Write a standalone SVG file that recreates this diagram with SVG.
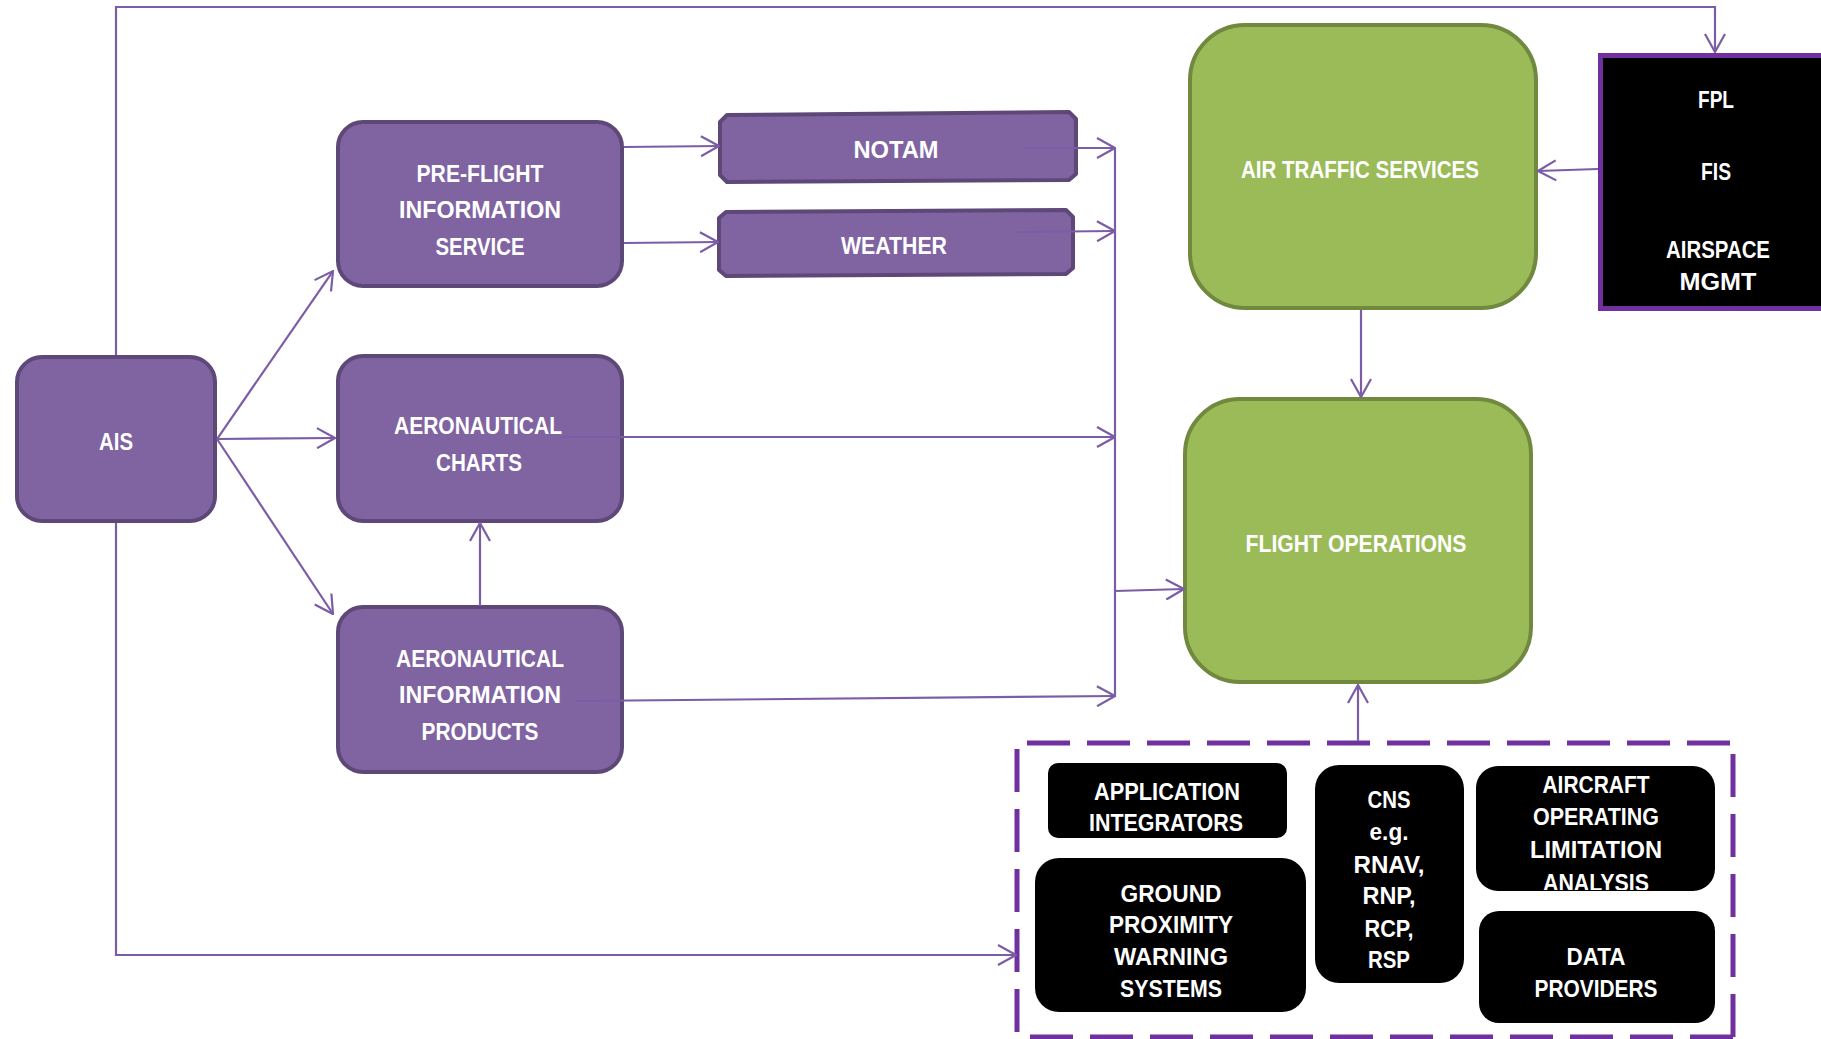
<svg xmlns="http://www.w3.org/2000/svg" width="1821" height="1039" viewBox="0 0 1821 1039">
<style>
  .pbox { fill: #8064A2; stroke: #5E4878; stroke-width: 4; stroke-linejoin: round; }
  .gbox { fill: #9BBB59; stroke: #71893F; stroke-width: 4; }
  .kbox { fill: #000000; }
  .fbox { fill: #000000; stroke: #7030A0; stroke-width: 5; }
  .t { font-family: "Liberation Sans", Arial, sans-serif; font-weight: bold; font-size: 23.5px; fill: #FFFFFF; text-anchor: middle; }
  .c { fill: none; stroke: #7B5CA6; stroke-width: 2.2; }
  .ca { fill: none; stroke: #7B5CA6; stroke-width: 2.2; marker-end: url(#arr); }
  .dash { fill: none; stroke: #7030A0; stroke-width: 5; stroke-dasharray: 43 17; }
</style>
<defs>
  <marker id="arr" markerUnits="userSpaceOnUse" viewBox="0 0 20 22" markerWidth="20" markerHeight="22" refX="19" refY="11" orient="auto">
    <path d="M1,1 L19,11 L1,21" fill="none" stroke="#7B5CA6" stroke-width="2.2"/>
  </marker>
  <clipPath id="clipAOLA">
    <rect x="1476" y="766" width="239" height="124"/>
  </clipPath>
</defs>
<rect width="1821" height="1039" fill="#FFFFFF"/>

<g id="ais">
  <rect class="pbox" x="17" y="357" width="198" height="164" rx="25"/>
  <text class="t" x="116" y="450" textLength="34" lengthAdjust="spacingAndGlyphs">AIS</text>
</g>

<g id="pre-flight">
  <rect class="pbox" x="338" y="122" width="284" height="164" rx="25"/>
  <text class="t" x="480" y="182" textLength="127" lengthAdjust="spacingAndGlyphs">PRE-FLIGHT</text>
  <text class="t" x="480" y="218" textLength="162" lengthAdjust="spacingAndGlyphs">INFORMATION</text>
  <text class="t" x="480" y="255" textLength="89" lengthAdjust="spacingAndGlyphs">SERVICE</text>
</g>

<g id="charts">
  <rect class="pbox" x="338" y="356" width="284" height="165" rx="25"/>
  <text class="t" x="478" y="434" textLength="168" lengthAdjust="spacingAndGlyphs">AERONAUTICAL</text>
  <text class="t" x="479" y="471" textLength="86" lengthAdjust="spacingAndGlyphs">CHARTS</text>
</g>

<g id="aip">
  <rect class="pbox" x="338" y="607" width="284" height="165" rx="25"/>
  <text class="t" x="480" y="667" textLength="168" lengthAdjust="spacingAndGlyphs">AERONAUTICAL</text>
  <text class="t" x="480" y="703" textLength="162" lengthAdjust="spacingAndGlyphs">INFORMATION</text>
  <text class="t" x="480" y="740" textLength="117" lengthAdjust="spacingAndGlyphs">PRODUCTS</text>
</g>

<g id="notam">
  <polygon class="pbox" points="727,115 1069,112 1076,119 1076,174 1069,180 727,182 720,175 720,122"/>
  <text class="t" x="896" y="158" textLength="85" lengthAdjust="spacingAndGlyphs">NOTAM</text>
</g>

<g id="weather">
  <polygon class="pbox" points="726,212 1066,210 1073,217 1073,268 1066,274 726,276 719,270 719,218"/>
  <text class="t" x="894" y="254" textLength="106" lengthAdjust="spacingAndGlyphs">WEATHER</text>
</g>

<g id="ats">
  <rect class="gbox" x="1190" y="25" width="346" height="283" rx="55"/>
  <text class="t" x="1360" y="178" textLength="238" lengthAdjust="spacingAndGlyphs">AIR TRAFFIC SERVICES</text>
</g>

<g id="flight-ops">
  <rect class="gbox" x="1185" y="399" width="346" height="283" rx="55"/>
  <text class="t" x="1356" y="552" textLength="221" lengthAdjust="spacingAndGlyphs">FLIGHT OPERATIONS</text>
</g>

<g id="fpl">
  <rect class="fbox" x="1600.5" y="55.5" width="240" height="253"/>
  <text class="t" x="1716" y="108" textLength="36" lengthAdjust="spacingAndGlyphs">FPL</text>
  <text class="t" x="1716" y="180" textLength="30" lengthAdjust="spacingAndGlyphs">FIS</text>
  <text class="t" x="1718" y="258" textLength="104" lengthAdjust="spacingAndGlyphs">AIRSPACE</text>
  <text class="t" x="1718" y="290" textLength="77" lengthAdjust="spacingAndGlyphs">MGMT</text>
</g>

<g id="providers-group">
  <path class="dash" d="M1027,743 H1730"/>
  <path class="dash" d="M1017,749 V1039"/>
  <path class="dash" d="M1733,754 V1039"/>
  <path class="dash" d="M1030,1037 H1733"/>
</g>

<g id="app-integrators">
  <rect class="kbox" x="1048" y="763" width="239" height="75" rx="10"/>
  <text class="t" x="1167" y="800" textLength="146" lengthAdjust="spacingAndGlyphs">APPLICATION</text>
  <text class="t" x="1166" y="831" textLength="154" lengthAdjust="spacingAndGlyphs">INTEGRATORS</text>
</g>

<g id="gpws">
  <rect class="kbox" x="1035" y="858" width="271" height="154" rx="24"/>
  <text class="t" x="1171" y="902" textLength="101" lengthAdjust="spacingAndGlyphs">GROUND</text>
  <text class="t" x="1171" y="933" textLength="124" lengthAdjust="spacingAndGlyphs">PROXIMITY</text>
  <text class="t" x="1171" y="965" textLength="114" lengthAdjust="spacingAndGlyphs">WARNING</text>
  <text class="t" x="1171" y="997" textLength="102" lengthAdjust="spacingAndGlyphs">SYSTEMS</text>
</g>

<g id="cns">
  <rect class="kbox" x="1315" y="765" width="149" height="218" rx="24"/>
  <text class="t" x="1389" y="808" textLength="43" lengthAdjust="spacingAndGlyphs">CNS</text>
  <text class="t" x="1389" y="840" textLength="39" lengthAdjust="spacingAndGlyphs">e.g.</text>
  <text class="t" x="1389" y="873" textLength="71" lengthAdjust="spacingAndGlyphs">RNAV,</text>
  <text class="t" x="1389" y="904" textLength="53" lengthAdjust="spacingAndGlyphs">RNP,</text>
  <text class="t" x="1389" y="937" textLength="49" lengthAdjust="spacingAndGlyphs">RCP,</text>
  <text class="t" x="1389" y="968" textLength="42" lengthAdjust="spacingAndGlyphs">RSP</text>
</g>

<g id="aircraft-limitations">
  <rect class="kbox" x="1476" y="766" width="239" height="125" rx="22"/>
  <g clip-path="url(#clipAOLA)">
    <text class="t" x="1596" y="793" textLength="107" lengthAdjust="spacingAndGlyphs">AIRCRAFT</text>
    <text class="t" x="1596" y="825" textLength="126" lengthAdjust="spacingAndGlyphs">OPERATING</text>
    <text class="t" x="1596" y="858" textLength="132" lengthAdjust="spacingAndGlyphs">LIMITATION</text>
    <text class="t" x="1596" y="891" textLength="106" lengthAdjust="spacingAndGlyphs">ANALYSIS</text>
  </g>
</g>

<g id="data-providers">
  <rect class="kbox" x="1479" y="911" width="236" height="112" rx="20"/>
  <text class="t" x="1596" y="965" textLength="59" lengthAdjust="spacingAndGlyphs">DATA</text>
  <text class="t" x="1596" y="997" textLength="123" lengthAdjust="spacingAndGlyphs">PROVIDERS</text>
</g>

<g id="connectors">
  <path class="ca" d="M116,355 V7 H1715 V52"/>
  <path class="ca" d="M116,523 V955 H1016"/>
  <path class="ca" d="M217,439 L333,271"/>
  <path class="ca" d="M217,439 L335,438"/>
  <path class="ca" d="M217,439 L333,614"/>
  <path class="ca" d="M480,606 V523"/>
  <path class="ca" d="M624,147 L719,146"/>
  <path class="ca" d="M624,243 L718,242"/>
  <path class="ca" d="M1023,148 L1115,148"/>
  <path class="ca" d="M1017,232 L1115,231"/>
  <path class="ca" d="M560,437 L1115,437"/>
  <path class="ca" d="M576,701 L1115,696"/>
  <path class="c" d="M1115,148 V697"/>
  <path class="ca" d="M1115,591 L1184,589"/>
  <path class="ca" d="M1598,169 L1538,171"/>
  <path class="ca" d="M1361,310 V397"/>
  <path class="ca" d="M1358,741 V685"/>
</g>
</svg>
